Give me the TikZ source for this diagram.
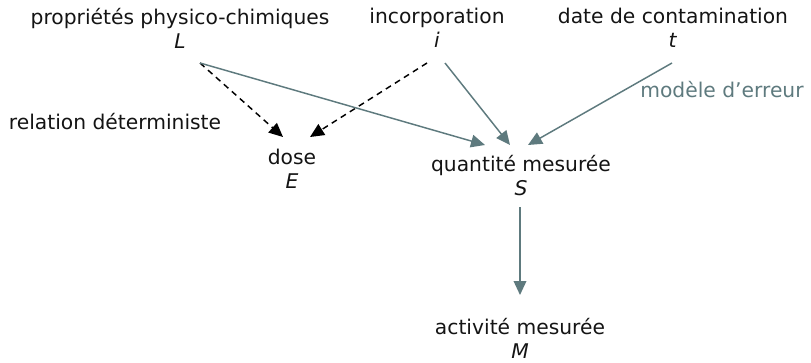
\documentclass[tikz,border=0pt]{standalone}
\usepackage{fontspec}
\setmainfont{DejaVu Sans}
\usepackage{xcolor}
\usepackage{tikz}
\usetikzlibrary{positioning,arrows.meta,calc}
\definecolor{errgray}{RGB}{94,122,126}
\definecolor{textblack}{RGB}{20,20,20}
\tikzset{
    var/.style={align=center, inner sep=0pt, font=\fontsize{15.2}{18}\selectfont, text=textblack},
    note/.style={inner sep=0pt, font=\fontsize{15.2}{18}\selectfont},
    det/.style={-{Triangle[length=10.5pt,width=9.5pt]}, line width=1.1pt, dash pattern=on 4.5pt off 3.5pt, draw=black},
    stoch/.style={-{Triangle[length=10.5pt,width=9.5pt]}, line width=1.1pt, draw=errgray}
}

\begin{document}
\begin{tikzpicture}[x=0.75pt,y=0.75pt]
\useasboundingbox (0,0) rectangle (811,362);
\node[var] (L) at (180,334) {propriétés physico-chimiques\\\textit{L}};
\node[var] (I) at (437,334) {incorporation\\\textit{i}};
\node[var] (T) at (673,334) {date de contamination\\\textit{t}};
\node[var] (E) at (292,193) {dose\\\textit{E}};
\node[var] (S) at (521,186) {quantité mesurée\\\textit{S}};
\node[var] (M) at (520,24) {activité mesurée\\\textit{M}};
\node[note, text=textblack] (detlab) at (115,240) {relation déterministe};
\node[note, text=errgray] (errlab) at (722,272) {modèle d’erreur};
% relations deterministes
\draw[det] ($(L)+(20,-35)$) -- ($(E)+(-9,32)$);
\draw[det] ($(I)+(-10,-35)$) -- ($(E)+(18,32)$);
% modele d'erreur
\draw[stoch] ($(L)+(20,-35)$) -- ($(S)+(-36,31)$);
\draw[stoch] ($(I)+(8,-35)$) -- ($(S)+(-11,31)$);
\draw[stoch] ($(T)+(-1,-35)$) -- ($(S)+(7,31)$);
\draw[stoch] ($(S)+(-1,-31)$) -- ($(M)+(0,43)$);
\end{tikzpicture}
\end{document}
